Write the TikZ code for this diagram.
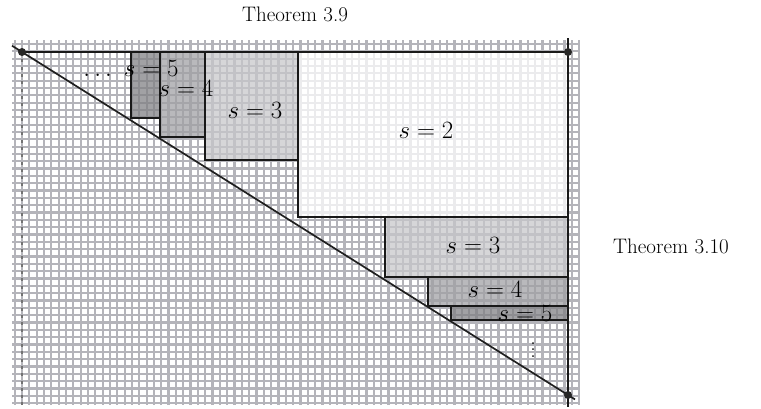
\documentclass[tikz,border=0pt]{standalone}
\begin{document}
\begin{tikzpicture}[x=1pt,y=-1pt,
  gridline/.style={draw={rgb,255:red,180;green,180;blue,186},line width=2.2pt},
  region/.style={draw=black!90,line width=2.6pt,fill opacity=0.74,draw opacity=1},
  edge/.style={draw=black!88,line width=1.7pt},
  thick edge/.style={draw=black!90,line width=2.7pt},
  dot/.style={circle,fill=black!85,inner sep=0pt,minimum size=8pt},
  slabel/.style={font=\fontsize{26}{30}\selectfont,inner sep=0pt},
  tlabel/.style={font=\fontsize{21}{25}\selectfont,inner sep=0pt}]
\useasboundingbox (0,0) rectangle (761,408);
% background grid
\foreach \i in {0,...,77} {\draw[gridline] ({14.66+\i*7.33},40) -- ({14.66+\i*7.33},405);}
\foreach \j in {0,...,49} {\draw[gridline] (12,{43.98+\j*7.33}) -- (578,{43.98+\j*7.33});}
% key points
\coordinate (TL) at (22,52);
\coordinate (TR) at (568,52);
\coordinate (BR) at (568,395);
\coordinate (RT) at (568,38);
\coordinate (RB) at (568,407);
\coordinate (DB) at (22,405);
\coordinate (D0) at (12,45.7);
\coordinate (D1) at (575,399.4);
% dashed left line
\draw[draw=black!55,line width=1.5pt,dash pattern=on 3pt off 4.3pt] (TL) -- (DB);
% regions
\filldraw[region,fill=white] (298,52) rectangle (568,217);
\filldraw[region,fill={rgb,255:red,200;green,200;blue,203}] (205,52) rectangle (298,160);
\filldraw[region,fill={rgb,255:red,160;green,160;blue,164}] (160,52) rectangle (205,137);
\filldraw[region,fill={rgb,255:red,128;green,128;blue,132}] (131,52) rectangle (160,118);
\filldraw[region,fill={rgb,255:red,200;green,200;blue,203}] (385,217) rectangle (568,277);
\filldraw[region,fill={rgb,255:red,160;green,160;blue,164}] (428,277) rectangle (568,306);
\filldraw[region,fill={rgb,255:red,128;green,128;blue,132}] (451,306) rectangle (568,320);
% main lines
\draw[edge] (D0) -- (D1);
\draw[thick edge] (TL) -- (TR);
\draw[thick edge] (RT) -- (RB);
\node[dot] (p1) at (TL) {};
\node[dot] (p2) at (TR) {};
\node[dot] (p3) at (BR) {};
% labels
\node[slabel] (u5) at (131,68) {$\ldots\ s=5$};
\node[slabel] (u4) at (186,88) {$s=4$};
\node[slabel] (u3) at (255,110) {$s=3$};
\node[slabel] (s2) at (426,130) {$s=2$};
\node[slabel] (l3) at (473,245) {$s=3$};
\node[slabel] (l4) at (495,289) {$s=4$};
\node[slabel] (l5) at (525,313) {$s=5$};
\node[slabel,font=\fontsize{22}{24}\selectfont] (vd) at (533,350)
  {\vbox{\baselineskip=6.5pt\lineskiplimit=-10pt\hbox{.}\hbox{.}\hbox{.}}};
\node[tlabel] (t39) at (295,14) {Theorem 3.9};
\node[tlabel] (t310) at (671,246) {Theorem 3.10};
\end{tikzpicture}
\end{document}
